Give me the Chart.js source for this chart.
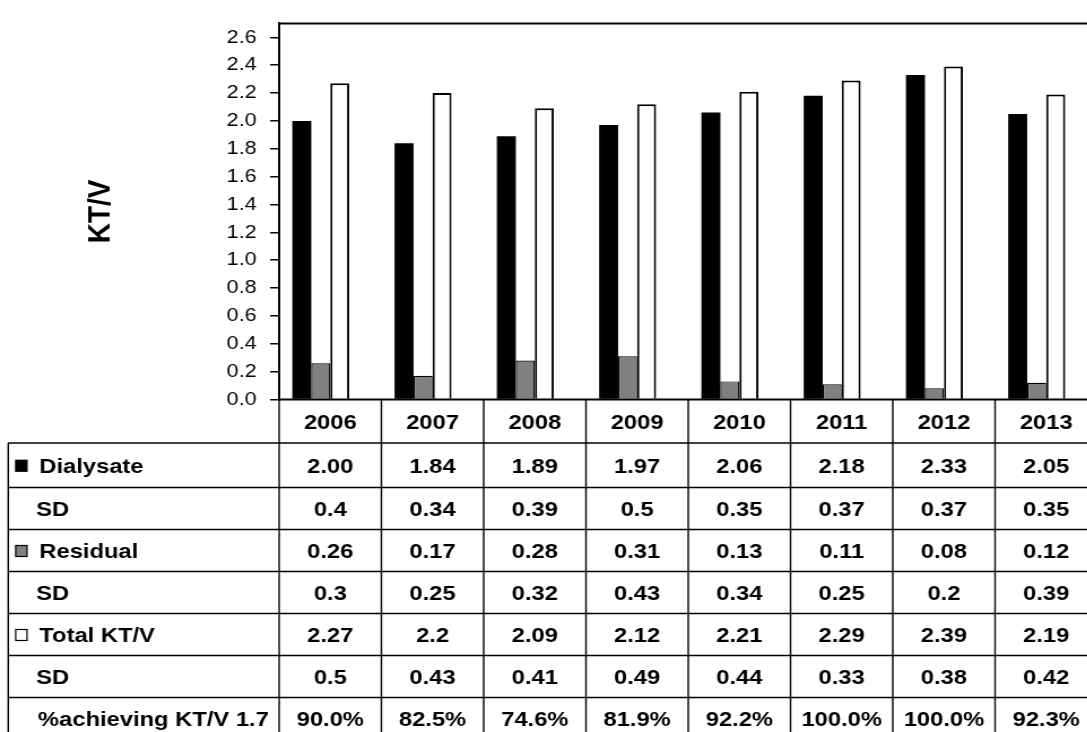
<!DOCTYPE html>
<html>
<head>
<meta charset="utf-8">
<script src="https://cdn.jsdelivr.net/npm/chart.js@4/dist/chart.umd.min.js"></script>
<style>
  html, body { margin: 0; padding: 0; background: #fff; overflow: hidden; width: 1087px; height: 732px; }
  #c { display: block; }
</style>
</head>
<body>
<canvas id="c" width="976" height="732" style="width:1103px;height:732px;"></canvas>
<script>
// ---- data ----
const years = ['2006', '2007', '2008', '2009', '2010', '2011', '2012', '2013'];
const dialysate = [2.00, 1.84, 1.89, 1.97, 2.06, 2.18, 2.33, 2.05];
const dialysateSD = [0.4, 0.34, 0.39, 0.5, 0.35, 0.37, 0.37, 0.35];
const residual = [0.26, 0.17, 0.28, 0.31, 0.13, 0.11, 0.08, 0.12];
const residualSD = [0.3, 0.25, 0.32, 0.43, 0.34, 0.25, 0.2, 0.39];
const totalKTV = [2.27, 2.2, 2.09, 2.12, 2.21, 2.29, 2.39, 2.19];
const totalSD = [0.5, 0.43, 0.41, 0.49, 0.44, 0.33, 0.38, 0.42];
const pctAchieving = [90.0, 82.5, 74.6, 81.9, 92.2, 100.0, 100.0, 92.3];
const emptySeries = [null, null, null, null, null, null, null, null];
const yTicks = [0, 0.2, 0.4, 0.6, 0.8, 1.0, 1.2, 1.4, 1.6, 1.8, 2.0, 2.2, 2.4, 2.6];
const yTitle = 'KT/V';
const pctLabel = '%achieving KT/V 1.7';
const sdLabel = 'SD';

const FONT = '"Liberation Sans", Arial, Helvetica, sans-serif';
Chart.defaults.font.family = FONT;
Chart.defaults.color = '#000';

const tableRows = [
  { label: 'Dialysate', swatch: '#000000', values: dialysate.map(v => v.toFixed(2)) },
  { label: sdLabel, values: dialysateSD.map(String) },
  { label: 'Residual', swatch: '#808080', values: residual.map(String) },
  { label: sdLabel, values: residualSD.map(String) },
  { label: 'Total KT/V', swatch: '#ffffff', values: totalKTV.map(String) },
  { label: sdLabel, values: totalSD.map(String) },
  { label: pctLabel, values: pctAchieving.map(v => v.toFixed(1) + '%') }
];

const tablePlugin = {
  id: 'tablePlugin',
  afterDraw(chart) {
    const ctx = chart.ctx;
    const ca = chart.chartArea;
    const xs = chart.scales.x;
    const n = years.length;
    const colW = (ca.right - ca.left) / n;
    const lineYs = [443, 487.5, 529.5, 571.5, 613.5, 655.5, 697.5, 740];
    const labelLeft = 7.3;
    ctx.save();
    ctx.strokeStyle = '#000';
    // plot area top border & right border
    ctx.lineWidth = 2;
    ctx.beginPath();
    ctx.moveTo(ca.left, ca.top);
    ctx.lineTo(ca.right, ca.top);
    ctx.lineTo(ca.right, ca.bottom);
    ctx.stroke();
    // x axis line
    ctx.lineWidth = 1.8;
    ctx.beginPath();
    ctx.moveTo(ca.left, ca.bottom);
    ctx.lineTo(ca.right, ca.bottom);
    ctx.stroke();
    // vertical table lines
    ctx.lineWidth = 1.4;
    ctx.beginPath();
    for (let k = 0; k <= n; k++) {
      const x = ca.left + k * colW;
      ctx.moveTo(x, ca.bottom);
      ctx.lineTo(x, 740);
    }
    ctx.moveTo(labelLeft, lineYs[0]);
    ctx.lineTo(labelLeft, 740);
    // horizontal table lines
    for (const y of lineYs) {
      ctx.moveTo(labelLeft, y);
      ctx.lineTo(ca.right, y);
    }
    ctx.stroke();

    // text
    const fs = 21;
    ctx.font = 'bold ' + fs + 'px ' + FONT;
    ctx.fillStyle = '#000';
    ctx.textBaseline = 'alphabetic';
    const capOff = fs * 0.358;
    // header years
    ctx.textAlign = 'center';
    const hy = (ca.bottom + lineYs[0]) / 2;
    years.forEach((yr, i) => {
      ctx.fillText(yr, xs.getPixelForValue(i), hy + capOff);
    });
    tableRows.forEach((row, r) => {
      const cy = (lineYs[r] + lineYs[r + 1]) / 2;
      ctx.textAlign = 'center';
      row.values.forEach((v, i) => {
        ctx.fillText(v, xs.getPixelForValue(i), cy + capOff);
      });
      ctx.textAlign = 'left';
      let tx = 31.9;
      if (row.swatch) {
        ctx.fillStyle = row.swatch;
        ctx.fillRect(13.9, cy - 5, 10, 11);
        ctx.lineWidth = 1.2;
        ctx.strokeRect(13.9, cy - 5, 10, 11);
        ctx.fillStyle = '#000';
        tx = 34.8;
      } else if (row.label === pctLabel) {
        tx = 33.6;
      }
      ctx.fillText(row.label, tx, cy + capOff);
    });
    ctx.restore();
  }
};

new Chart(document.getElementById('c'), {
  type: 'bar',
  data: {
    labels: years,
    datasets: [
      { label: 'Dialysate', data: dialysate, backgroundColor: '#000000', borderColor: '#000000', borderWidth: 0 },
      { label: 'Residual', data: residual, backgroundColor: '#808080', borderColor: '#000000', borderWidth: 1.2 },
      { label: 'Total KT/V', data: totalKTV, backgroundColor: '#ffffff', borderColor: '#000000', borderWidth: 2 },
      { label: 'spacer', data: emptySeries, backgroundColor: 'rgba(0,0,0,0)', borderWidth: 0 }
    ]
  },
  options: {
    responsive: false,
    devicePixelRatio: 1,
    animation: false,
    events: [],
    datasets: { bar: { categoryPercentage: 0.743, barPercentage: 1.0 } },
    layout: { padding: { left: 0, right: 5, top: 15.7, bottom: 332.5 } },
    plugins: { legend: { display: false }, tooltip: { enabled: false }, title: { display: false } },
    scales: {
      x: { display: false, offset: true },
      y: {
        min: 0,
        max: 2.7,
        afterFit(s) { s.width = 247; },
        afterBuildTicks(s) { s.ticks = yTicks.map(v => ({ value: v })); },
        ticks: {
          font: { size: 19 },
          color: '#000',
          padding: 12,
          callback: v => Number(v).toFixed(1)
        },
        grid: { drawOnChartArea: false, drawTicks: true, tickLength: 8, color: '#000', lineWidth: 1.5 },
        border: { display: true, color: '#000', width: 2 },
        title: {
          display: true,
          text: yTitle,
          font: { size: 28, weight: 'bold' },
          color: '#000',
          padding: { top: 72.8, bottom: 0 }
        }
      }
    }
  },
  plugins: [tablePlugin]
});
</script>
</body>
</html>
